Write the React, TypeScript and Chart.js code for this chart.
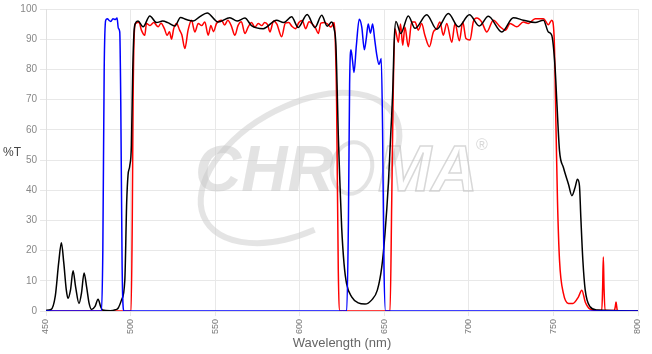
import React, { useEffect, useRef } from "react";
import { Chart, registerables } from "chart.js";

Chart.register(...registerables);

// Excitation filter (blue)
const excWl = [450, 482.8, 483.6, 484.4, 485.3, 486.3, 487.3, 488.3, 489.6, 491, 492, 492.8, 493.6, 494.2, 495, 496,
  627.8, 628.8, 629.5, 630.3, 631.2, 632.1, 633.5, 635.2, 636.7, 638.2, 639.3, 640.5, 641.8, 643.1, 644.3, 645.5, 646.9, 648.2, 649, 649.8, 650.8, 800];
const excT = [0, 0, 20, 80, 96.3, 96.8, 96.2, 95.9, 96.8, 96.5, 97, 93.6, 92.4, 69.4, 15, 0,
  0, 30, 75, 86.5, 83, 79, 88, 96.6, 94, 86.5, 90, 95, 92, 95, 90, 85, 81.6, 83.6, 60, 15, 0, 0];

// Emission filter (red)
const emWl = [450, 500.3, 501, 501.5, 502.2, 503, 505, 506.4, 508.4, 509.4, 511.5, 513.7, 516.3, 518, 520, 521.6, 523, 524.2,
  525.5, 527.2, 529, 530.3, 532.1, 534, 536, 538, 540, 542, 543.9, 545.9, 547.5, 549, 550.8, 553.8, 555.6, 557.5, 559.5,
  561.7, 563.5, 565.5, 567.6, 569.5, 571.5, 573.5, 575.5, 577.5, 579.3, 581, 582.4, 584.5, 586.5, 589.3, 591.5, 593.5,
  595.5, 597.5, 599.5, 601.5, 603.5, 605.5, 607.5, 609.5, 611, 612.5, 614.5, 616.5, 618.5, 620.3, 621, 621.8, 622.8, 623.8,
  653.4, 654.4, 655.3, 656.3, 658.3, 659.6, 660.9, 662.2, 664.2, 666.2, 668.2, 670.1, 672.1, 674, 676.7, 679, 681, 682.9,
  684.9, 686.9, 689.9, 691.8, 694.4, 696.4, 698.3, 700.7, 702.6, 704.7, 707.6, 710.6, 714.5, 718.5, 721.6, 724.4, 728.3,
  732.2, 735.2, 739.2, 744.1, 747, 749, 750.4, 751.6, 752.4, 753.6, 755.9, 758.9, 761.5, 764.8, 766.8, 768.8, 771.7, 775,
  778.6, 779.1, 779.5, 779.9, 780.5, 786, 786.6, 787, 787.4, 787.8, 800];
const emT = [0, 0, 30, 70, 92, 95.2, 95.6, 93, 91.3, 95.2, 94.5, 95.5, 94.1, 95.3, 93.5, 91.3, 92.5, 90,
  93.5, 95.2, 93, 91.5, 86.9, 93, 96.3, 92.4, 95.2, 94.5, 95.7, 91.3, 94.5, 92.5, 95.2, 96.3, 94.7, 96.3, 94.5,
  91.3, 94.5, 95.8, 91.9, 94, 95.5, 94, 95.2, 94.5, 95.5, 94.8, 92.4, 96, 95, 90.8, 95.3, 95.5,
  94.2, 93.5, 95.5, 96.2, 93.5, 95.8, 95, 93.5, 91.9, 95.3, 95.5, 95, 94, 95.5, 90, 69.4, 13.6, 0,
  0, 36.5, 73, 93.5, 89, 95, 88, 94, 87.5, 95.7, 95.7, 93, 95.2, 91.3, 87.5, 92.4, 93.5, 95.7,
  91.3, 95.2, 89, 95.2, 89.5, 95.7, 90.2, 89.7, 95.7, 97, 95.7, 92.4, 96.3, 94.1, 93, 95.2, 94.1,
  95.7, 95.2, 96.8, 96.8, 94.8, 96.3, 91, 58.4, 36.5, 16.8, 5.8, 2.5, 2.5, 4.7, 6.9, 3, 0.6, 0.2,
  0.2, 8, 17.9, 8, 0.2, 0.2, 1.5, 3, 1.5, 0.1, 0];

// Dichroic (black)
const dicWl = [450, 453, 455.5, 457.5, 459.1, 460.5, 462, 463, 464.5, 466, 467.5, 469.5, 471, 472.5, 474, 475.5, 476.9,
  479, 480.8, 482.3, 483.4, 488, 491, 492.6, 494.6, 496.6, 497.7, 498.5, 499.5, 500.5, 501.3, 502, 502.8, 504.4, 507.4,
  511.4, 515.3, 519, 522, 526.2, 529.5, 533, 537, 541, 545.3, 551.8, 558.7, 563, 567.6, 571.5, 578.4, 586.3, 590.5, 595.2,
  599.1, 604.4, 609, 613, 616.3, 618.9, 620.3, 621.4, 622.3, 622.8, 623.8, 624.8, 626.2, 627.7, 630.7, 634.6, 638.6,
  642.5, 645.9, 648.5, 650.4, 652.4, 653.8, 655, 655.9, 656.9, 659.7, 664.2, 668.2, 675.1, 681, 687.9, 693.8, 700.3,
  706.2, 711.5, 719.5, 726.3, 732.2, 739.2, 744.1, 747, 749, 751, 752, 753.6, 755.9, 758.9, 760.9, 762.8, 764.2, 765.4,
  766.2, 767.4, 768.8, 771.7, 775.7, 800];
const dicT = [0.2, 0.5, 5, 16, 22.6, 16, 7, 4.2, 7, 13.3, 8, 2.5, 6, 12.6, 8, 2.5, 0.5,
  1.5, 3.9, 1.5, 0.3, 0.1, 0.4, 0.9, 3.6, 10.2, 36, 45, 48, 55, 80, 92, 95.2, 96, 94.1,
  97.7, 95.5, 96, 95.5, 94.4, 97.2, 96.5, 96, 97.5, 98.7, 95.7, 97.1, 96, 97, 94.5, 93.5, 96.3, 95.5, 97.4,
  93.9, 98.2, 93.9, 97.9, 94.3, 95.7, 93.5, 88, 70, 58.4, 42, 27.7, 15.7, 9.1, 4.7, 2.7, 2.3,
  3.6, 6.9, 14.5, 25.5, 42, 58.4, 73, 90, 95.9, 91.9, 97.7, 93.6, 98.1, 93.3, 98.5, 94.1, 98.1,
  94.4, 97.6, 92.4, 97.1, 96.3, 95.5, 96.3, 92.4, 91.3, 80.4, 69.4, 53, 47.5, 42, 38.2, 40.9, 43.6, 41.4,
  31, 16.8, 6.9, 1.4, 0.3, 0];

const xMin = 450;
const xMax = 800;
const xStep = 50;
const yMin = 0;
const yMax = 100;
const yStep = 10;

const FONT = "'Liberation Sans', Arial, Helvetica, sans-serif";

const toPoints = (xs: number[], ys: number[]) => xs.map((x, i) => ({ x, y: ys[i] }));

const watermarkPlugin = {
  id: "watermark",
  beforeDatasetsDraw(chart: any) {
    const ctx = chart.ctx as CanvasRenderingContext2D;
    ctx.save();
    ctx.strokeStyle = "rgba(205,205,205,0.55)";
    ctx.lineWidth = 6;
    ctx.beginPath();
    ctx.ellipse(300, 168, 108, 62, -0.5, Math.PI * 0.55, Math.PI * 2.25);
    ctx.stroke();
    ctx.font = `italic bold 64px ${FONT}`;
    ctx.textBaseline = "alphabetic";
    ctx.fillStyle = "rgba(200,200,200,0.5)";
    ctx.fillText("CHR", 195, 191);
    ctx.strokeStyle = "rgba(190,190,190,0.6)";
    ctx.lineWidth = 1.5;
    ctx.strokeText("MA", 378, 191);
    ctx.lineWidth = 4;
    ctx.strokeStyle = "rgba(200,200,200,0.5)";
    ctx.beginPath();
    ctx.ellipse(352, 168, 20, 26, 0.2, 0, Math.PI * 2);
    ctx.stroke();
    ctx.font = `16px ${FONT}`;
    ctx.fillStyle = "rgba(190,190,190,0.6)";
    ctx.fillText("®", 476, 150);
    ctx.restore();
  },
};

const titlesPlugin = {
  id: "titles",
  afterDraw(chart: any) {
    const ctx = chart.ctx as CanvasRenderingContext2D;
    const ca = chart.chartArea;
    ctx.save();
    ctx.textBaseline = "middle";
    ctx.fillStyle = "#444";
    ctx.font = `12px ${FONT}`;
    ctx.textAlign = "left";
    ctx.fillText("%T", 3, 153);
    ctx.fillStyle = "#666";
    ctx.font = `13px ${FONT}`;
    ctx.textAlign = "center";
    ctx.fillText("Wavelength (nm)", (ca.left + ca.right) / 2, 343);
    ctx.restore();
  },
};

export default function App() {
  const ref = useRef<HTMLCanvasElement | null>(null);
  useEffect(() => {
    if (!ref.current) return;
    const chart = new Chart(ref.current, {
      type: "line",
      data: {
        datasets: [
          {
            label: "Excitation",
            data: toPoints(excWl, excT),
            borderColor: "rgb(0,0,255)",
            borderWidth: 1.5,
            pointRadius: 0,
            cubicInterpolationMode: "monotone",
            fill: false,
            order: 0,
          },
          {
            label: "Dichroic",
            data: toPoints(dicWl, dicT),
            borderColor: "rgb(0,0,0)",
            borderWidth: 1.5,
            pointRadius: 0,
            cubicInterpolationMode: "monotone",
            fill: false,
            order: 1,
          },
          {
            label: "Emission",
            data: toPoints(emWl, emT),
            borderColor: "rgb(255,0,0)",
            borderWidth: 1.5,
            pointRadius: 0,
            cubicInterpolationMode: "monotone",
            fill: false,
            order: 2,
          },
        ],
      },
      options: {
        animation: false,
        responsive: true,
        maintainAspectRatio: false,
        layout: { padding: { left: 0, right: 14, top: 7, bottom: 0 } },
        plugins: { legend: { display: false }, tooltip: { enabled: false } },
        scales: {
          x: {
            type: "linear",
            min: xMin,
            max: xMax,
            ticks: {
              stepSize: xStep,
              minRotation: 90,
              maxRotation: 90,
              color: "#777",
              font: { size: 9, family: FONT },
              padding: 3,
            },
            grid: { color: "#e8e8e8", tickLength: 5 },
            border: { color: "#e0e0e0" },
            afterFit: (s: any) => {
              s.height = 43;
            },
          },
          y: {
            min: yMin,
            max: yMax,
            ticks: {
              stepSize: yStep,
              color: "#888",
              font: { size: 10, family: FONT },
              padding: 3,
            },
            grid: { color: "#e8e8e8", tickLength: 6 },
            border: { color: "#e0e0e0" },
            afterFit: (s: any) => {
              s.width = 46;
            },
          },
        },
      },
      plugins: [watermarkPlugin, titlesPlugin],
    } as any);
    return () => chart.destroy();
  }, []);
  return (
    <div style={{ position: "fixed", left: 0, top: 0, width: 652, height: 354, background: "#fff" }}>
      <canvas ref={ref} />
    </div>
  );
}
